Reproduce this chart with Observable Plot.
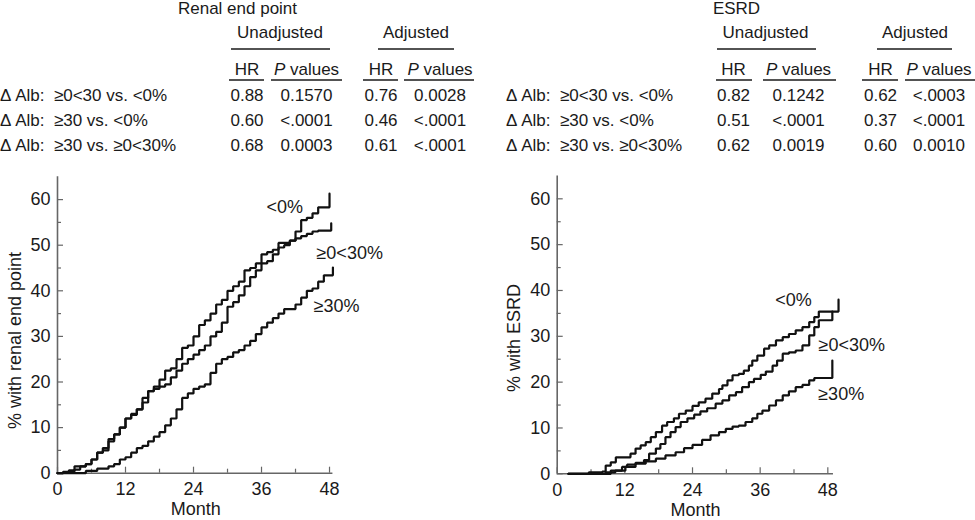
<!DOCTYPE html>
<html>
<head>
<meta charset="utf-8">
<script src="https://cdn.jsdelivr.net/npm/d3@7"></script>
<script src="https://cdn.jsdelivr.net/npm/@observablehq/plot@0.6"></script>
<style>
  html, body { margin: 0; padding: 0; background: #fff; }
  #root { position: relative; width: 975px; height: 520px; overflow: hidden; font-family: "Liberation Sans", Arial, Helvetica, sans-serif; }
  .panel { position: absolute; top: 160px; }
</style>
</head>
<body>
<div id="root"></div>
<script>
// ---------- table data ----------
const comparisons = ["Δ Alb:  ≥0<30 vs. <0%", "Δ Alb:  ≥30 vs. <0%", "Δ Alb:  ≥30 vs. ≥0<30%"];
const renalUnadjHR = ["0.88", "0.60", "0.68"];
const renalUnadjP  = ["0.1570", "<.0001", "0.0003"];
const renalAdjHR   = ["0.76", "0.46", "0.61"];
const renalAdjP    = ["0.0028", "<.0001", "<.0001"];
const esrdUnadjHR  = ["0.82", "0.51", "0.62"];
const esrdUnadjP   = ["0.1242", "<.0001", "0.0019"];
const esrdAdjHR    = ["0.62", "0.37", "0.60"];
const esrdAdjP     = ["<.0003", "<.0001", "0.0010"];

// ---------- curve data (month, cumulative %) ----------
const groups = ["<0%", "≥0<30%", "≥30%"];
const renalLt0Month = [0,1,2,3,5,6,7,8,9,10,11,12,13,14,15,16,17,18,19,20,21,22,23,24,25,26,27,28,29,30,31,32,33,34,35,36,37,38,39,40,41,42,43,44,45,46,48];
const renalLt0Pct   = [0,0.3,0.6,1.5,2,3,4.5,5,7.5,8.5,10,12,12.8,14,15.5,18,19,20.5,22.5,23,25,27.5,28,30,32.5,33.5,35,37,38,40,41,42,44.5,45,46,48,48.5,49,50.5,50.5,51,53,55.5,56,57,58.3,61.3];
const renalMidMonth = [0,1,2,3,4,5,6,7,8,9,10,11,12,13,14,15,16,17,18,19,20,21,22,23,24,25,26,27,28,29,30,31,32,33,34,35,36,37,38,39,40,41,42,43,44,45,46,48.3];
const renalMidPct   = [0,0.2,0.4,0.8,1.5,2,3,4.5,5.5,7,8.5,10,12,13,14,16.5,18,18.5,19,19.5,21,22.5,24,25,26,27,28,30,31,33,36.5,37.5,39,41,43,44.5,46,46.5,48,49.5,50,51,51.5,52,52.5,53,53.2,54.8];
const renalGe30Month = [0,4,5,7,8.5,9,10,11,12,13,14,15,16,17,18,19,20,21,22,23,24,25,26,27,28,29,30,31,32,33,34,35,36,37,38,39,40,41,42,43,44,45,46,47,48.6];
const renalGe30Pct   = [0,0,0.5,1,1,1.5,2,3,3.5,4.5,5.5,6,7,8,9,10.5,12,14,16.5,17.5,18.5,19,19.5,22,24,25,25.5,26.5,27,28,29,30.5,32,33,34,35,36,36,37,38.5,40,40.5,42,43.4,45.1];

const esrdLt0Month = [2,5.6,8,8.6,9.5,10.4,13,13.9,14.8,15.7,16.6,17.5,18.6,19.5,20.7,21.6,22.8,24,25.1,26.3,27.5,28.7,29.3,30.2,31.1,32.2,33.1,34,34.6,35.5,36.7,37.6,38.8,40,41.1,42.3,43.5,44.7,45.6,46.4,49.9];
const esrdLt0Pct   = [0,0.3,0.5,1.8,2.5,3.6,4.4,5.5,6.2,6.9,8,9.1,10.5,11.3,12.1,13.1,13.8,14.8,15.6,16.4,17.5,18.5,19.3,20.4,21.5,21.8,22.5,23.6,24.7,25.8,27.3,28,29.1,29.8,30.5,31.3,32,33.1,34.2,35.4,38.0];
const esrdMidMonth = [2,8.6,9.5,11.5,12.4,13.9,15.4,16.3,17.5,18.3,19.2,20.1,21,21.9,23.1,24.3,25.4,26.6,28.1,29.3,30.5,31.7,32.8,34,34.9,36.1,37,38.2,39,40,41.1,42.3,43.5,44.7,45.6,46.4,48.8];
const esrdMidPct   = [0,0,0.7,1.5,2,2.4,3,4.4,5.5,6.5,8,9.1,10.2,11.3,12.1,12.9,13.6,14.3,15.3,16,17.1,17.8,18.9,20,20.7,21.6,22.3,23.6,24.7,26.2,26.5,26.9,28,30.2,32,33.5,35.4];
const esrdGe30Month = [2,6.8,8.6,10.3,12.1,13.9,15.7,17.5,19.2,21,22.5,24,25.7,27.2,28.7,29.9,31.1,32.2,33.4,34.6,35.5,36.4,37.6,38.8,40,41.1,42.3,43.5,44.7,45.6,48.8];
const esrdGe30Pct   = [0,0,0.3,0.7,1.5,2.2,2.7,3.3,4,4.7,5.6,6.3,7.4,8.4,9.1,9.8,10.3,10.5,11.3,12.1,13.1,13.8,14.9,16,17.1,18,18.9,19.4,20.4,20.9,24.7];

const yTicks = [0, 10, 20, 30, 40, 50, 60];
const yMinor = [5, 15, 25, 35, 45, 55];
const xTicks = [0, 12, 24, 36, 48];
const xMinor = [6, 18, 30, 42];

// ---------- styles ----------
const FONT = '"Liberation Sans", Arial, Helvetica, sans-serif';
const INK = "#1a1a1a";
const AXIS = "#666";

const root = d3.select("#root");

// ---------- tables ----------
const svgT = root.append("svg")
  .attr("width", 975).attr("height", 160)
  .style("position", "absolute").style("left", "0px").style("top", "0px")
  .attr("font-family", FONT).attr("font-size", 17).attr("fill", INK);

function drawTable(cfg, cols) {
  svgT.append("text").attr("x", cfg.titleX).attr("y", 14).attr("text-anchor", "middle").text(cfg.title);
  cfg.groupX.forEach((gx, i) => {
    svgT.append("text").attr("x", gx).attr("y", 38).attr("text-anchor", "middle").text(["Unadjusted", "Adjusted"][i]);
    svgT.append("line").attr("x1", cfg.groupLine[i][0]).attr("x2", cfg.groupLine[i][1]).attr("y1", 49).attr("y2", 49)
      .attr("stroke", INK).attr("stroke-width", 1.4);
  });
  cfg.colX.forEach((cx, j) => {
    const t = svgT.append("text").attr("x", cx).attr("y", 75).attr("text-anchor", "middle");
    if (j % 2 === 0) t.text("HR");
    else { t.append("tspan").attr("font-style", "italic").text("P"); t.append("tspan").text(" values").style("white-space", "pre"); }
    svgT.append("line").attr("x1", cfg.colLine[j][0]).attr("x2", cfg.colLine[j][1]).attr("y1", 80).attr("y2", 80)
      .attr("stroke", INK).attr("stroke-width", 1.4);
  });
  const baselines = [101, 126, 151];
  comparisons.forEach((c, r) => {
    svgT.append("text").attr("x", cfg.labelX).attr("y", baselines[r]).style("white-space", "pre").text(c);
    cols.forEach((col, j) => {
      svgT.append("text").attr("x", cfg.colX[j]).attr("y", baselines[r]).attr("text-anchor", "middle").text(col[r]);
    });
  });
}

drawTable({
  title: "Renal end point", titleX: 237.5,
  groupX: [280, 416], groupLine: [[231, 330], [378, 454]],
  colX: [247, 306.5, 381, 440], colLine: [[229, 264], [271, 342], [363, 398], [404, 474]],
  labelX: 0
}, [renalUnadjHR, renalUnadjP, renalAdjHR, renalAdjP]);

drawTable({
  title: "ESRD", titleX: 736.5,
  groupX: [765.5, 915], groupLine: [[717, 816], [877, 952]],
  colX: [733.5, 798.5, 880.5, 939], colLine: [[716, 752], [763, 836], [862, 898], [905, 975]],
  labelX: 506
}, [esrdUnadjHR, esrdUnadjP, esrdAdjHR, esrdAdjP]);

// ---------- plots ----------
function rowsOf(list) {
  return list.flatMap(([name, ms, ps]) => ms.map((m, i) => ({month: m, pct: ps[i], group: name})));
}

function panel(opt) {
  const chart = Plot.plot({
    width: opt.width, height: 360,
    marginLeft: opt.mL, marginRight: opt.mR, marginTop: opt.mT, marginBottom: opt.mB,
    style: {fontFamily: FONT, color: INK, background: "transparent", overflow: "visible"},
    x: {domain: [0, 50]},
    y: {domain: [0, 65]},
    marks: [
      // axis lines
      Plot.ruleX([0], {y1: 0, y2: 65, stroke: AXIS, strokeWidth: 1.6}),
      Plot.ruleY([0], {x1: 0, x2: opt.xEnd, stroke: AXIS, strokeWidth: 1.6}),
      // inward ticks
      Plot.axisY({ticks: yTicks, tickSize: 6, dx: 6, fill: "none", stroke: AXIS, strokeWidth: 1.2, label: null}),
      Plot.axisY({ticks: yMinor, tickSize: 4, dx: 4, fill: "none", stroke: AXIS, strokeWidth: 1.2, label: null}),
      Plot.axisX({ticks: xTicks, tickSize: 6, dy: -6, fill: "none", stroke: AXIS, strokeWidth: 1.2, label: null}),
      Plot.axisX({ticks: xMinor, tickSize: 4, dy: -4, fill: "none", stroke: AXIS, strokeWidth: 1.2, label: null}),
      // tick labels
      Plot.axisY({ticks: yTicks, tickSize: 0, tickPadding: 7, fontSize: 18, fill: INK, label: null}),
      Plot.axisX({ticks: xTicks, tickSize: 0, tickPadding: 9, fontSize: 18, fill: INK, label: null}),
      // axis titles
      Plot.text(["Month"], {frameAnchor: "bottom", dx: opt.monthDx, dy: 36, lineAnchor: "middle", fontSize: 18, fill: INK}),
      Plot.text([opt.yLabel], {frameAnchor: "left", textAnchor: "middle", rotate: -90, dx: opt.yLabDx, dy: opt.yLabDy, lineAnchor: "middle", fontSize: 18, fill: INK}),
      // curves
      Plot.line(rowsOf(opt.series), {x: "month", y: "pct", z: "group", curve: "step-after", stroke: "#111", strokeWidth: 2.2, strokeLinejoin: "miter"}),
      // curve labels
      Plot.text(opt.labels.filter(d => d.anchor === "middle"), {x: "x", y: "y", text: "text", textAnchor: "middle", lineAnchor: "middle", fontSize: 18, fill: INK}),
      Plot.text(opt.labels.filter(d => d.anchor === "start"), {x: "x", y: "y", text: "text", textAnchor: "start", lineAnchor: "middle", fontSize: 18, fill: INK})
    ]
  });
  const div = root.append("div").attr("class", "panel").style("left", opt.left + "px");
  div.node().appendChild(chart);
}

panel({
  left: 0, width: 487, mL: 57, mR: 146.65, mT: 16.3, mB: 47.3, xEnd: 48.6,
  monthDx: -3.4, yLabel: "% with renal end point", yLabDx: -42.5, yLabDy: 15.5,
  series: [[groups[0], renalLt0Month, renalLt0Pct], [groups[1], renalMidMonth, renalMidPct], [groups[2], renalGe30Month, renalGe30Pct]],
  labels: [
    {text: groups[0], x: 40.1, y: 58.3, anchor: "middle"},
    {text: groups[1], x: 45.7, y: 48.2, anchor: "start"},
    {text: groups[2], x: 45.2, y: 36.7, anchor: "start"}
  ]
});

panel({
  left: 487, width: 488, mL: 69.7, mR: 136.4, mT: 15.4, mB: 46.7, xEnd: 49,
  monthDx: -2.7, yLabel: "% with ESRD", yLabDx: -42.7, yLabDy: 13.2,
  series: [[groups[0], esrdLt0Month, esrdLt0Pct], [groups[1], esrdMidMonth, esrdMidPct], [groups[2], esrdGe30Month, esrdGe30Pct]],
  labels: [
    {text: groups[0], x: 41.9, y: 37.8, anchor: "middle"},
    {text: groups[1], x: 46.35, y: 28.0, anchor: "start"},
    {text: groups[2], x: 46.3, y: 17.3, anchor: "start"}
  ]
});
</script>
</body>
</html>
